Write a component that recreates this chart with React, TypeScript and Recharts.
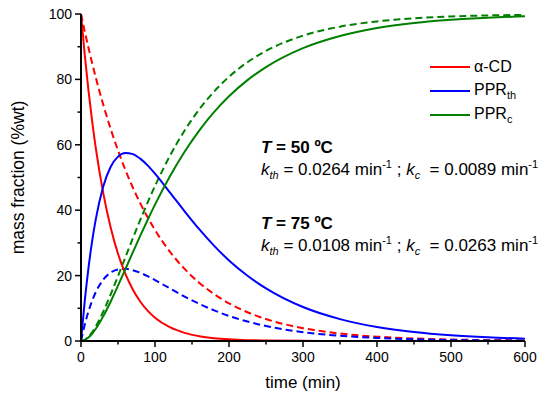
import { LineChart, Line, XAxis, YAxis, Legend } from 'recharts'

// sampling times (min)
const times = [0, 5, 10, 15, 20, 30, 40, 50, 60, 70, 80, 90, 100, 120, 140, 160, 180, 200, 225, 250, 300, 350, 400, 450, 500, 550, 600]

// T = 50 ºC (solid)
const alphaCD50 = [100, 87.63, 76.79, 67.29, 58.97, 45.28, 34.77, 26.7, 20.5, 15.74, 12.09, 9.28, 7.13, 4.21, 2.48, 1.46, 0.86, 0.51, 0.26, 0.14, 0.04, 0.01, 0, 0, 0, 0, 0]
const pprTh50 = [0, 12.1, 22.16, 30.49, 37.29, 47.19, 53.21, 56.38, 57.51, 57.16, 55.77, 53.71, 51.17, 45.48, 39.65, 34.11, 29.09, 24.65, 19.97, 16.1, 10.39, 6.7, 4.29, 2.75, 1.76, 1.13, 0.72]
const pprC50 = [0, 0.27, 1.05, 2.22, 3.74, 7.53, 12.02, 16.92, 21.99, 27.1, 32.14, 37.01, 41.7, 50.31, 57.87, 64.43, 70.05, 74.84, 79.77, 83.76, 89.57, 93.29, 95.71, 97.25, 98.24, 98.87, 99.28]

// T = 75 ºC (dashed)
const alphaCD75 = [100, 94.74, 89.76, 85.04, 80.57, 72.32, 64.92, 58.27, 52.3, 46.95, 42.15, 37.83, 33.95, 27.35, 22.04, 17.77, 14.32, 11.53, 8.8, 6.72, 3.92, 2.28, 1.33, 0.78, 0.45, 0.26, 0.15]
const pprTh75 = [0, 4.92, 8.98, 12.29, 14.97, 18.74, 20.9, 21.9, 22.07, 21.66, 20.88, 19.83, 18.64, 16.09, 13.6, 11.34, 9.36, 7.67, 5.94, 4.58, 2.7, 1.59, 0.93, 0.54, 0.31, 0.18, 0.11]
const pprC75 = [0, 0.34, 1.26, 2.67, 4.46, 8.94, 14.18, 19.83, 25.63, 31.39, 36.97, 42.34, 47.41, 56.56, 64.36, 70.89, 76.32, 80.8, 85.26, 88.7, 93.38, 96.13, 97.74, 98.68, 99.24, 99.56, 99.74]

const xTicks = [0, 50, 100, 150, 200, 250, 300, 350, 400, 450, 500, 550, 600]
const yTicks = [0, 10, 20, 30, 40, 50, 60, 70, 80, 90, 100]

const data = times.map((t, i) => ({
  t,
  a50: alphaCD50[i],
  b50: pprTh50[i],
  c50: pprC50[i],
  a75: alphaCD75[i],
  b75: pprTh75[i],
  c75: pprC75[i],
}))

const font = '"Liberation Sans", Arial, sans-serif'

const XTick = (props: any) => {
  const { x, y, payload } = props
  const v = payload.value
  const major = v % 100 === 0
  const axisY = y - 10
  return (
    <g>
      <line x1={x} x2={x} y1={axisY} y2={axisY + (major ? 6 : 3.5)} stroke="#000" strokeWidth={1.5} />
      {major && (
        <text x={x} y={axisY + 10} dy="0.75em" textAnchor="middle" fontSize={14} fill="#000" fontFamily={font}>
          {v}
        </text>
      )}
    </g>
  )
}

const YTick = (props: any) => {
  const { x, y, payload } = props
  const v = payload.value
  const major = v % 20 === 0
  const axisX = x + 9
  return (
    <g>
      <line x1={axisX} x2={axisX - (major ? 6 : 3.5)} y1={y} y2={y} stroke="#000" strokeWidth={1.5} />
      {major && (
        <text x={axisX - 9} y={y} dy="0.36em" textAnchor="end" fontSize={14} fill="#000" fontFamily={font}>
          {v}
        </text>
      )}
    </g>
  )
}

const legendRows = [
  { color: '#ff0000', name: 'α-CD', sub: '' },
  { color: '#0000ff', name: 'PPR', sub: 'th' },
  { color: '#008000', name: 'PPR', sub: 'c' },
]

const LegendBox = () => (
  <div style={{ fontFamily: font, fontSize: 16, color: '#000' }}>
    {legendRows.map((r, i) => (
      <div key={i} style={{ display: 'flex', alignItems: 'center', height: 24 }}>
        <div style={{ width: 40, height: 2, background: r.color, marginRight: 4 }} />
        <span>
          {r.name}
          {r.sub && <sub style={{ fontSize: 11 }}>{r.sub}</sub>}
        </span>
      </div>
    ))}
  </div>
)

const note = { position: 'absolute' as const, left: 261, fontFamily: font, fontSize: 17, color: '#000', whiteSpace: 'nowrap' as const, lineHeight: '18px' }
const sub = { fontSize: 11, fontStyle: 'italic' as const, lineHeight: 0 }
const sup = { fontSize: 11, lineHeight: 0 }

export default function App() {
  return (
    <div style={{ position: 'absolute', left: 0, top: 0, width: 550, height: 398, background: '#fff' }}>
      <LineChart width={550} height={398} data={data} margin={{ top: 14, right: 25, left: 0, bottom: 0 }}>
        <XAxis
          dataKey="t"
          type="number"
          domain={[0, 600]}
          ticks={xTicks}
          interval={0}
          height={57}
          tickSize={6}
          tickMargin={4}
          tickLine={false}
          tick={<XTick />}
          axisLine={{ stroke: '#000', strokeWidth: 2 }}
          label={{ value: 'time (min)', position: 'insideBottom', offset: 10, fontSize: 17, fill: '#000', fontFamily: font }}
        />
        <YAxis
          type="number"
          domain={[0, 100]}
          ticks={yTicks}
          interval={0}
          width={81}
          tickSize={6}
          tickMargin={3}
          tickLine={false}
          tick={<YTick />}
          axisLine={{ stroke: '#000', strokeWidth: 2 }}
          label={{ value: 'mass fraction (%wt)', angle: -90, position: 'insideLeft', offset: 18, fontSize: 17.5, fill: '#000', fontFamily: font, style: { textAnchor: 'middle' } }}
        />
        <Legend
          layout="horizontal"
          verticalAlign="middle"
          align="center"
          content={<LegendBox />}
          wrapperStyle={{ position: 'absolute', left: 430, top: 55, width: 'auto', height: 'auto' }}
        />
        <Line type="monotone" dataKey="a75" stroke="#ff0000" strokeWidth={2} strokeDasharray="7 4" dot={false} isAnimationActive={false} legendType="none" />
        <Line type="monotone" dataKey="b75" stroke="#0000ff" strokeWidth={2} strokeDasharray="7 4" dot={false} isAnimationActive={false} legendType="none" />
        <Line type="monotone" dataKey="c75" stroke="#008000" strokeWidth={2} strokeDasharray="7 4" dot={false} isAnimationActive={false} legendType="none" />
        <Line type="monotone" dataKey="a50" stroke="#ff0000" strokeWidth={2} dot={false} isAnimationActive={false} />
        <Line type="monotone" dataKey="b50" stroke="#0000ff" strokeWidth={2} dot={false} isAnimationActive={false} />
        <Line type="monotone" dataKey="c50" stroke="#008000" strokeWidth={2} dot={false} isAnimationActive={false} />
      </LineChart>

      <div style={{ ...note, top: 139, fontWeight: 'bold' }}>
        <i>T</i> = 50 ºC
      </div>
      <div style={{ ...note, top: 161 }}>
        <i>k</i><sub style={sub}>th</sub> = 0.0264 min<sup style={sup}>-1</sup> ; <i>k</i><sub style={sub}>c</sub>&nbsp; = 0.0089 min<sup style={sup}>-1</sup>
      </div>
      <div style={{ ...note, top: 215, fontWeight: 'bold' }}>
        <i>T</i> = 75 ºC
      </div>
      <div style={{ ...note, top: 237 }}>
        <i>k</i><sub style={sub}>th</sub> = 0.0108 min<sup style={sup}>-1</sup> ; <i>k</i><sub style={sub}>c</sub>&nbsp; = 0.0263 min<sup style={sup}>-1</sup>
      </div>
    </div>
  )
}
